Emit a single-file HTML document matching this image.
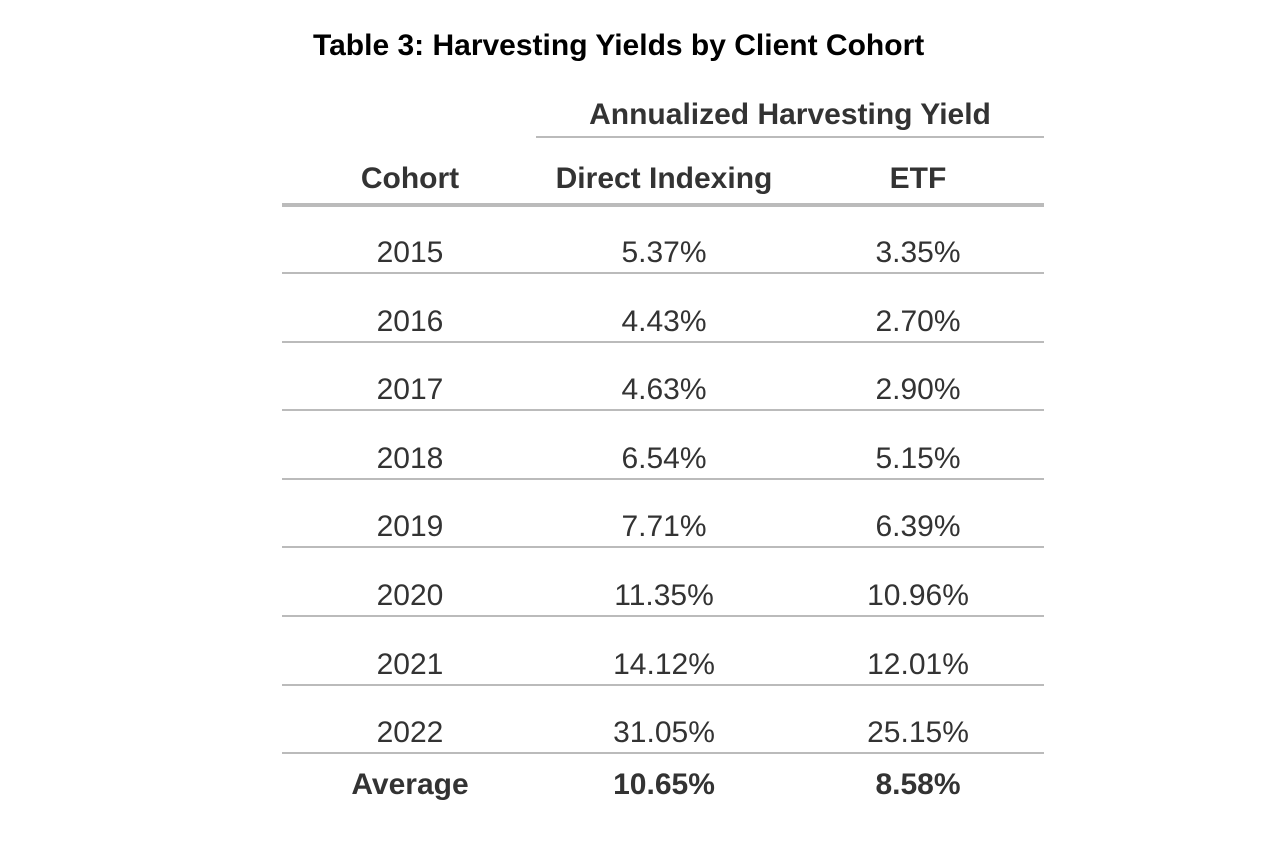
<!DOCTYPE html>
<html><head><meta charset="utf-8"><style>
body{margin:0;width:1286px;height:850px;background:#fff;font-family:"Liberation Sans",Arial,sans-serif;color:#333;position:relative;overflow:hidden}
.t{position:absolute;white-space:nowrap;transform:translate(-50%,-50%);font-size:30px}
.b{font-weight:bold}
.l{position:absolute;background:#bbb}
</style></head><body>
<div class="t b" style="left:313px;top:46px;transform:translate(0,-50%);color:#000;font-size:30px">Table 3: Harvesting Yields by Client Cohort</div>
<div class="t b" style="left:790px;top:115px">Annualized Harvesting Yield</div>
<div class="l" style="left:536px;top:136px;width:508px;height:2px"></div>
<div class="t b" style="left:410px;top:179px">Cohort</div>
<div class="t b" style="left:664px;top:179px">Direct Indexing</div>
<div class="t b" style="left:918px;top:179px">ETF</div>
<div class="l" style="left:282px;top:203px;width:762px;height:4px"></div>
<script>
const cohorts=["2015","2016","2017","2018","2019","2020","2021","2022"];
const direct=["5.37%","4.43%","4.63%","6.54%","7.71%","11.35%","14.12%","31.05%"];
const etf=["3.35%","2.70%","2.90%","5.15%","6.39%","10.96%","12.01%","25.15%"];
const avg=["Average","10.65%","8.58%"];
const xs=[410,664,918];
function add(txt,x,y,name,bold){const d=document.createElement('div');d.className='t'+(bold?' b':'');d.style.left=x+'px';d.style.top=y+'px';d.textContent=txt;


document.body.appendChild(d);}
cohorts.forEach((c,i)=>{const y=253+i*68.6;
add(c,xs[0],y,'cohort-'+c,false);add(direct[i],xs[1],y,'direct-'+c,false);add(etf[i],xs[2],y,'etf-'+c,false);
const l=document.createElement('div');l.className='l';l.style.left='282px';l.style.top=(272+i*68.6)+'px';l.style.width='762px';l.style.height='2px';


document.body.appendChild(l);});
add(avg[0],xs[0],785,'average-label',true);add(avg[1],xs[1],785,'average-direct',true);add(avg[2],xs[2],785,'average-etf',true);
</script>
</body></html>
